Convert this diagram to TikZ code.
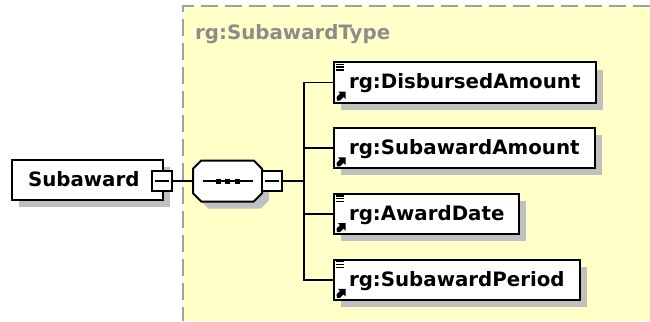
\documentclass[tikz,border=0pt]{standalone}
\usepackage{fontspec}
\setmainfont{DejaVu Sans}
\usetikzlibrary{shapes,shapes.misc,arrows,arrows.meta,calc,shadows,positioning}
\definecolor{typeyellow}{RGB}{255,255,200}
\definecolor{dashgray}{RGB}{160,160,160}
\definecolor{shadowgray}{RGB}{192,192,192}
\definecolor{labelgray}{RGB}{140,140,140}

\begin{document}
\begin{tikzpicture}[x=1pt, y=-1pt, >=stealth',
  font=\fontsize{19.8}{23}\selectfont\bfseries]
\tikzset{%
  boxed/.style = {%
    general shadow = {%
      shadow scale = 1,
      shadow xshift = 7pt,
      shadow yshift = -7pt,
      fill = shadowgray},
    draw,
    line width = 2pt,
    fill = white,
    text height = 14.5pt,
    text depth = 2pt,
    minimum height = 40pt
  },
  element/.style = {boxed, anchor=west, inner xsep=15pt},
  seqbox/.style = {boxed, chamfered rectangle,
    chamfered rectangle xsep=9pt, chamfered rectangle ysep=9pt,
    minimum width=69pt, minimum height=41pt, inner sep=0pt},
  minusbox/.style = {draw, line width=1.6pt, fill=white,
    minimum size=20pt, inner sep=0pt},
  conn/.style = {line width=1.7pt}
}
  \useasboundingbox (0,0) rectangle (650,321);

  % complex type area
  \fill[typeyellow] (183,6) rectangle (650,321);
  \draw[dashgray, line width=2pt, dash pattern=on 17pt off 7pt]
    (650,6) -- (183,6) -- (183,321);
  \node[anchor=base west, inner sep=0pt, text=labelgray]
    (typename) at (195,40) {rg:SubawardType};

  \node[boxed, text width=119pt, align=left, inner xsep=16pt]
    (subaward) at (87.5,180) {Subaward};
  \node[minusbox] (minusa) at (162,181) {};
  \node[seqbox, node distance=65.5pt, right of=minusa] (seq) {};
  \node[minusbox, node distance=44.5pt, right of=seq] (minusb) {};
  \coordinate[node distance=32pt, right of=minusb] (bus);

  \node[element] (disbursed) at (333,82.5) {rg:DisbursedAmount};
  \node[element] (subamount) at ([yshift=-65.8pt]disbursed.west)
    {rg:SubawardAmount};
  \node[element] (awarddate) at ([yshift=-65.8pt]subamount.west)
    {rg:AwardDate};
  \node[element] (period) at ([yshift=-65.8pt]awarddate.west)
    {rg:SubawardPeriod};

  % sequence symbol
  \draw[conn] ($(seq.center)+(-25,0)$) -- ($(seq.center)+(25,0)$);
  \foreach \dx in {-9.5,0,9.5}
    \fill ($(seq.center)+(\dx,0)$) +(-2.5,-2.5) rectangle +(2.5,2.5);

  \foreach \m in {minusa,minusb}
    \draw[line width=1.5pt] ($(\m.west)+(4,0)$) -- ($(\m.east)+(-4,0)$);

  % connectors
  \draw[conn] (minusa.east) -- (seq.west);
  \draw[conn] (minusb.east) -- (bus);
  \foreach \el in {disbursed,subamount,awarddate,period}
    \draw[conn] (bus) |- (\el.west);

  % element icons
  \foreach \el in {disbursed,awarddate,period}
    \foreach \dy in {2.8,5.6,8.4}
      \draw[line width=1.5pt] ($(\el.north west)+(3,\dy)$) -- ++(8,0);
  \foreach \el in {disbursed,subamount,awarddate,period}
    \fill ($(\el.south west)+(4,-3)$) -- ++(3,0) -- ++(3.5,-3.5)
      -- ++(2,2) -- ++(0,-7.5) -- ++(-7.5,0) -- ++(2,2) -- ++(-3.5,3.5)
      -- cycle;
\end{tikzpicture}
\end{document}
